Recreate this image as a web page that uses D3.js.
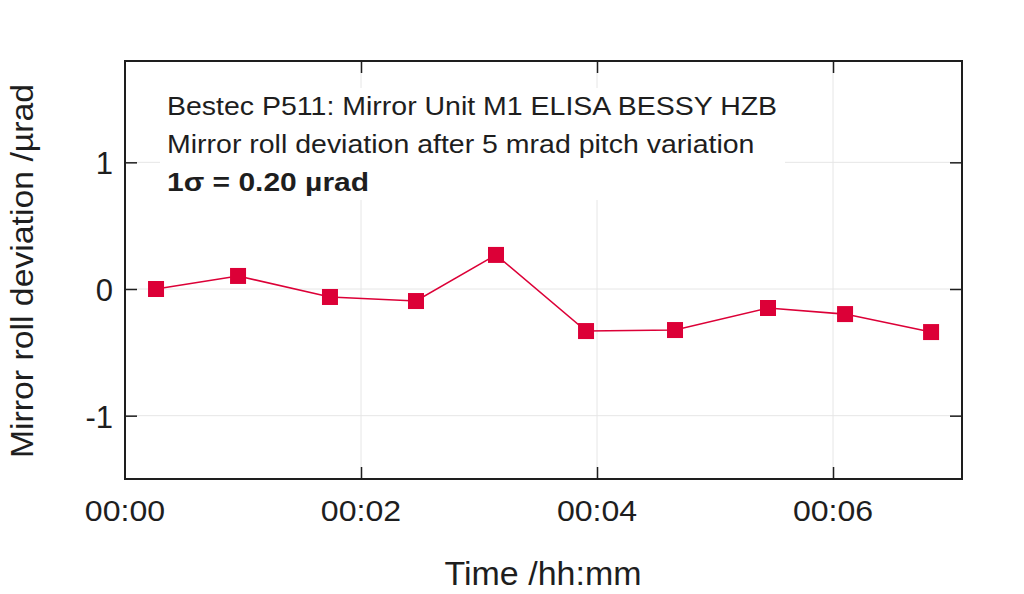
<!DOCTYPE html>
<html><head><meta charset="utf-8">
<script src="https://cdn.jsdelivr.net/npm/d3@7"></script>
<style>body{margin:0;background:#fff}svg{display:block}</style>
</head><body><svg id="c" width="1024" height="594"></svg>
<script>
const timesMin = [0.263, 0.958, 1.737, 2.466, 3.144, 3.907, 4.661, 5.449, 6.102, 6.831];
const rollDev = [0.0, 0.103, -0.063, -0.095, 0.269, -0.332, -0.324, -0.150, -0.198, -0.340];
const xTicks = [0, 2, 4, 6];
const xTickLabels = ["00:00", "00:02", "00:04", "00:06"];
const yTicks = [-1, 0, 1];
const yTickLabels = ["-1", "0", "1"];
const titleLines = ["Bestec P511: Mirror Unit M1 ELISA BESSY HZB", "Mirror roll deviation after 5 mrad pitch variation"];
const sigmaText = "1σ = 0.20 µrad";

const svg = d3.select("#c");
const L = 125, R = 962, T = 61, B = 479;
const x = d3.scaleLinear().domain([0, 7.093]).range([L, R]);
const y = d3.scaleLinear().domain([-1.50, 1.80]).range([B, T]);
const font = "'Liberation Sans', Arial, Helvetica, sans-serif";
const col = "#dc0037";
const ink = "#1e1e1e";

// grid
svg.append("g").selectAll("line").data(xTicks.slice(1)).join("line")
  .attr("x1", d => x(d)).attr("x2", d => x(d)).attr("y1", T).attr("y2", B)
  .attr("stroke", "#e6e6e6").attr("stroke-width", 1);
svg.append("g").selectAll("line").data(yTicks).join("line")
  .attr("x1", L).attr("x2", R).attr("y1", d => y(d)).attr("y2", d => y(d))
  .attr("stroke", "#e6e6e6").attr("stroke-width", 1);

// text box background
svg.append("rect").attr("x", 160).attr("y", 88).attr("width", 625).attr("height", 112).attr("fill", "#fff");

// axes (inward ticks)
const fmtX = d => xTickLabels[xTicks.indexOf(d)];
const fmtY = d => yTickLabels[yTicks.indexOf(d)];
const axB = svg.append("g").attr("transform", `translate(0,${B})`)
  .call(d3.axisTop(x).tickValues(xTicks.slice(1)).tickSize(12).tickFormat(""));
const axT = svg.append("g").attr("transform", `translate(0,${T})`)
  .call(d3.axisBottom(x).tickValues(xTicks.slice(1)).tickSize(12).tickFormat(""));
const axL = svg.append("g").attr("transform", `translate(${L},0)`)
  .call(d3.axisRight(y).tickValues(yTicks).tickSize(12).tickFormat(""));
const axR = svg.append("g").attr("transform", `translate(${R},0)`)
  .call(d3.axisLeft(y).tickValues(yTicks).tickSize(12).tickFormat(""));
[axB, axT, axL, axR].forEach(a => { a.select(".domain").remove(); a.selectAll("line").attr("stroke", ink).attr("stroke-width", 1.5); });

svg.append("rect").attr("x", L).attr("y", T).attr("width", R - L).attr("height", B - T)
  .attr("fill", "none").attr("stroke", ink).attr("stroke-width", 2);

// tick labels
svg.append("g").selectAll("text").data(xTicks).join("text")
  .attr("text-anchor", "middle")
  .attr("font-family", font).attr("font-size", 30).attr("fill", ink)
  .attr("transform", d => `translate(${x(d)},521) scale(1.07,1)`)
  .text(fmtX);
svg.append("g").selectAll("text").data(yTicks).join("text")
  .attr("x", 113).attr("y", d => y(d) + 12).attr("text-anchor", "end")
  .attr("font-family", font).attr("font-size", 31).attr("fill", ink)
  .text(fmtY);

// axis titles
svg.append("text").attr("transform", "translate(543,585) scale(1.03,1)").attr("text-anchor", "middle")
  .attr("font-family", font).attr("font-size", 33).attr("fill", ink).text("Time /hh:mm");
svg.append("text").attr("transform", "translate(33,271) rotate(-90) scale(1.09,1)").attr("text-anchor", "middle")
  .attr("font-family", font).attr("font-size", 31).attr("fill", ink).text("Mirror roll deviation /µrad");

// annotations
svg.append("g").selectAll("text").data(titleLines).join("text")
  .attr("transform", (d, i) => `translate(167,${115 + i * 38}) scale(1.14,1)`)
  .attr("font-family", font).attr("font-size", 25).attr("fill", ink).text(d => d);
svg.append("text").attr("transform", "translate(167,191) scale(1.2,1)")
  .attr("font-family", font).attr("font-size", 25).attr("font-weight", "bold").attr("fill", ink).text(sigmaText);

// line + markers
const pts = timesMin.map((t, i) => [t, rollDev[i]]);
svg.append("path").datum(pts)
  .attr("d", d3.line().x(d => x(d[0])).y(d => y(d[1])))
  .attr("fill", "none").attr("stroke", col).attr("stroke-width", 1.6);
svg.append("g").selectAll("rect").data(pts).join("rect")
  .attr("x", d => x(d[0]) - 8).attr("y", d => y(d[1]) - 8).attr("width", 16).attr("height", 16)
  .attr("fill", col);
</script></body></html>
